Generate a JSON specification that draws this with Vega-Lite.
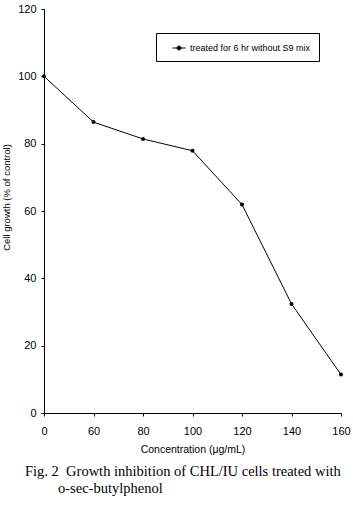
{
  "$schema": "https://vega.github.io/schema/vega-lite/v6.json",
  "autosize": "none",
  "width": 297,
  "height": 404,
  "padding": {"left": 44, "top": 9, "right": 12, "bottom": 93},
  "background": "white",
  "title": {
    "text": "Fig. 2\u2002Growth inhibition of CHL/IU cells treated with",
    "subtitle": "\u2800\u2800\u2800o-sec-butylphenol",
    "orient": "bottom",
    "anchor": "start",
    "frame": "group",
    "dx": -19,
    "offset": 10,
    "font": "Liberation Serif",
    "fontSize": 14.5,
    "fontWeight": "normal",
    "color": "black",
    "subtitleFont": "Liberation Serif",
    "subtitleFontSize": 14.5,
    "subtitleColor": "black",
    "subtitlePadding": 3
  },
  "data": {
    "values": [
      {"conc": "0", "growth": 100, "series": "treated for 6 hr without S9 mix"},
      {"conc": "60", "growth": 86.4, "series": "treated for 6 hr without S9 mix"},
      {"conc": "80", "growth": 81.4, "series": "treated for 6 hr without S9 mix"},
      {"conc": "100", "growth": 77.9, "series": "treated for 6 hr without S9 mix"},
      {"conc": "120", "growth": 61.9, "series": "treated for 6 hr without S9 mix"},
      {"conc": "140", "growth": 32.4, "series": "treated for 6 hr without S9 mix"},
      {"conc": "160", "growth": 11.4, "series": "treated for 6 hr without S9 mix"}
    ]
  },
  "encoding": {
    "x": {
      "field": "conc",
      "type": "ordinal",
      "sort": null,
      "scale": {"type": "point", "padding": 0},
      "axis": {
        "title": "Concentration (\u03bcg/mL)",
        "labelAngle": 0,
        "labelFont": "Liberation Sans",
        "labelFontSize": 11,
        "labelColor": "black",
        "labelPadding": 9,
        "tickSize": 3,
        "tickColor": "black",
        "domainColor": "black",
        "titleFont": "Liberation Sans",
        "titleFontSize": 10.5,
        "titleFontWeight": "normal",
        "titleColor": "black",
        "titlePadding": 8,
        "grid": false
      }
    },
    "y": {
      "field": "growth",
      "type": "quantitative",
      "scale": {"domain": [0, 120], "nice": false, "zero": true},
      "axis": {
        "title": "Cell growth (% of control)",
        "values": [0, 20, 40, 60, 80, 100, 120],
        "labelFont": "Liberation Sans",
        "labelFontSize": 11,
        "labelColor": "black",
        "labelPadding": 5,
        "tickSize": 3,
        "tickColor": "black",
        "domainColor": "black",
        "titleFont": "Liberation Sans",
        "titleFontSize": 9.5,
        "titleFontWeight": "normal",
        "titleColor": "black",
        "titlePadding": 6,
        "titleY": 188,
        "grid": false
      }
    },
    "color": {
      "field": "series",
      "type": "nominal",
      "scale": {"range": ["black"]},
      "legend": {
        "title": null,
        "orient": "none",
        "legendX": 112,
        "legendY": 24,
        "strokeColor": "black",
        "fillColor": "white",
        "padding": 8,
        "symbolOffset": 8,
        "symbolType": "M-1,0L1,0M-0.3,0A0.3,0.3 0 1,1 0.3,0A0.3,0.3 0 1,1 -0.3,0Z",
        "symbolSize": 169,
        "symbolStrokeWidth": 1,
        "symbolFillColor": "black",
        "symbolStrokeColor": "black",
        "labelFont": "Liberation Sans",
        "labelFontSize": 9,
        "labelColor": "black",
        "labelOffset": 4
      }
    }
  },
  "layer": [
    {"mark": {"type": "line", "strokeWidth": 1, "color": "black"}},
    {"mark": {"type": "point", "filled": true, "size": 16, "opacity": 1, "color": "black"}}
  ],
  "config": {
    "view": {"stroke": null},
    "axis": {"domainWidth": 1, "tickWidth": 1}
  }
}
